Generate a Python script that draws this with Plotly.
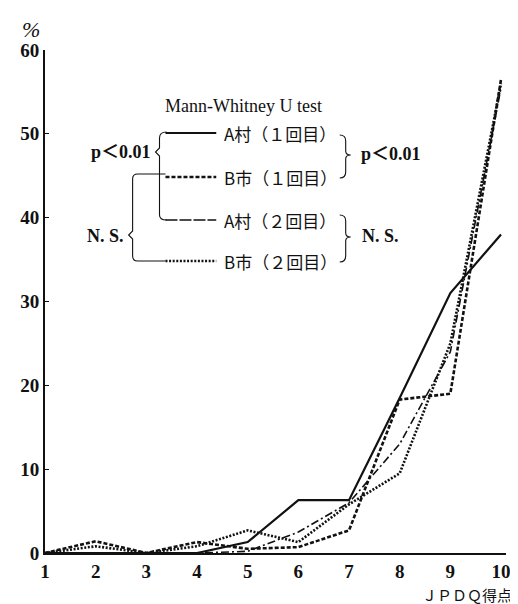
import plotly.graph_objects as go

# ---- data ----
x_scores = [1, 2, 3, 4, 5, 6, 7, 8, 9, 10]
a_village_1 = [0, 0, 0, 0, 1.3, 6.3, 6.3, 18.5, 31, 38]
b_city_1 = [0, 1.4, 0, 1.3, 0.5, 0.7, 2.7, 18.3, 19, 56.5]
a_village_2 = [0, 0, 0, 0, 0.2, 2.5, 6.0, 13, 24, 55.5]
b_city_2 = [0, 0.8, 0, 0.8, 2.7, 1.3, 5.8, 9.5, 25, 56]
series_names = ["A村（１回目）", "B市（１回目）", "A村（２回目）", "B市（２回目）"]
y_tick_vals = [0, 10, 20, 30, 40, 50, 60]
x_tick_vals = [1, 2, 3, 4, 5, 6, 7, 8, 9, 10]
test_title = "Mann-Whitney U test"
sig_text = "p＜0.01"
ns_text = "N. S."
x_title = "ＪＰＤＱ得点"
y_unit = "%"

# ---- layout geometry (pixels) ----
WIDTH, HEIGHT = 518, 604
L, R, T, B = 35, 20, 42, 59
PW, PH = WIDTH - L - R, HEIGHT - T - B
X_MAX = 10 + 5 / (458 / 9)

def px(x):
    return (x - L) / PW

def py(y):
    return 1 - (y - T) / PH

INK = "#111111"
SERIF = "Liberation Serif, Noto Sans CJK JP, serif"
CJK = "Noto Sans CJK JP, sans-serif"

styles = [
    dict(width=2.2, dash="solid"),
    dict(width=2.6, dash="4px,2px"),
    dict(width=1.6, dash="8px,3px,2px,3px"),
    dict(width=2.6, dash="2px,1.6px"),
]
legend_dash = ["solid", "4px,2px", "12px,2px", "2px,1.6px"]

fig = go.Figure()
for name, ys, st in zip(series_names, [a_village_1, b_city_1, a_village_2, b_city_2], styles):
    fig.add_trace(go.Scatter(
        x=x_scores, y=ys, mode="lines", name=name,
        line=dict(color=INK, width=st["width"], dash=st["dash"]),
        showlegend=False,
    ))

shapes = []
annotations = []

# legend rows
rows_y = [125, 169, 212, 253]
for i, (name, yy) in enumerate(zip(series_names, rows_y)):
    shapes.append(dict(type="line", xref="paper", yref="paper",
                       x0=px(156), x1=px(207), y0=py(yy), y1=py(yy),
                       line=dict(color=INK, width=styles[i]["width"], dash=legend_dash[i])))
    annotations.append(dict(xref="paper", yref="paper", x=px(213), y=py(yy),
                            xanchor="left", yanchor="middle", showarrow=False,
                            text=name, font=dict(family=CJK, size=17, color=INK)))

def path(points):
    s = ""
    for p in points:
        if p[0] == "M" or p[0] == "L":
            s += f"{p[0]} {px(p[1]):.5f},{py(p[2]):.5f} "
        elif p[0] == "Q":
            s += f"Q {px(p[1]):.5f},{py(p[2]):.5f} {px(p[3]):.5f},{py(p[4]):.5f} "
    return s.strip()

thin = dict(color=INK, width=1.1)
# left bracket p<0.01 (rows 1 & 3)
shapes.append(dict(type="path", xref="paper", yref="paper", line=thin, path=path([
    ("M", 157, 124), ("Q", 150, 124, 150, 130), ("L", 150, 140), ("L", 146, 144),
    ("L", 150, 148), ("L", 150, 207), ("Q", 150, 212, 157, 212)])))
# left bracket N.S. (rows 2 & 4)
shapes.append(dict(type="path", xref="paper", yref="paper", line=thin, path=path([
    ("M", 156, 166), ("L", 128, 166), ("Q", 123, 166, 123, 171), ("L", 123, 223),
    ("L", 119, 227), ("L", 123, 231), ("L", 123, 248), ("Q", 123, 253, 128, 253),
    ("L", 156, 253)])))
# right braces
for top, bot, mid in [(127, 170, 147), (207, 254, 229)]:
    shapes.append(dict(type="path", xref="paper", yref="paper", line=thin, path=path([
        ("M", 331, top), ("Q", 337, top, 337, top + 6), ("L", 337, mid - 4),
        ("Q", 337, mid, 342, mid), ("Q", 337, mid, 337, mid + 4), ("L", 337, bot - 6),
        ("Q", 337, bot, 331, bot)])))

annotations += [
    dict(xref="paper", yref="paper", x=px(234), y=py(98), xanchor="center", yanchor="middle",
         showarrow=False, text=test_title, font=dict(family=SERIF, size=18, color=INK)),
    dict(xref="paper", yref="paper", x=px(143), y=py(144), xanchor="right", yanchor="middle",
         showarrow=False, text=sig_text, font=dict(family=SERIF, size=18, color=INK, weight="bold")),
    dict(xref="paper", yref="paper", x=px(116), y=py(228), xanchor="right", yanchor="middle",
         showarrow=False, text=ns_text, font=dict(family=SERIF, size=18, color=INK, weight="bold")),
    dict(xref="paper", yref="paper", x=px(350), y=py(146), xanchor="left", yanchor="middle",
         showarrow=False, text=sig_text, font=dict(family=SERIF, size=18, color=INK, weight="bold")),
    dict(xref="paper", yref="paper", x=px(351), y=py(228), xanchor="left", yanchor="middle",
         showarrow=False, text=ns_text, font=dict(family=SERIF, size=18, color=INK, weight="bold")),
    dict(xref="paper", yref="paper", x=px(505), y=py(586), xanchor="right", yanchor="middle",
         showarrow=False, text=x_title, borderpad=0,
         font=dict(family=CJK, size=15, color=INK)),
    dict(xref="paper", yref="paper", x=px(21), y=py(22), xanchor="center", yanchor="middle",
         showarrow=False, text=y_unit, font=dict(family=SERIF, size=22, color=INK, style="italic")),
]

fig.update_layout(
    width=WIDTH, height=HEIGHT,
    margin=dict(l=L, r=R, t=T, b=B, pad=0),
    paper_bgcolor="white", plot_bgcolor="white",
    shapes=shapes, annotations=annotations,
    showlegend=False,
)
fig.update_xaxes(range=[1, X_MAX], tickvals=x_tick_vals, ticks="", showgrid=False,
                 zeroline=False, showline=True, linecolor=INK, linewidth=2,
                 tickfont=dict(family=SERIF, size=19, color=INK, weight="bold"))
fig.update_yaxes(range=[0, 60], tickvals=y_tick_vals, ticks="inside", ticklen=4,
                 tickcolor=INK, showgrid=False, zeroline=False, showline=True,
                 linecolor=INK, linewidth=2,
                 tickfont=dict(family=SERIF, size=19, color=INK, weight="bold"))

fig.write_html("out.html")
